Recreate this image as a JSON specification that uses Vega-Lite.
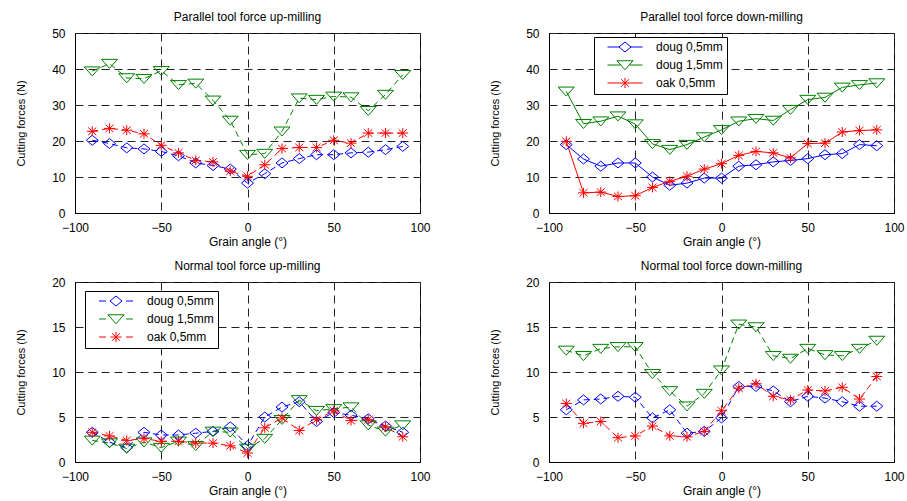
{
  "$schema": "https://vega.github.io/schema/vega-lite/v6.json",
  "background": "white",
  "padding": {"left": 15, "top": 10, "right": 5, "bottom": 5},
  "config": {
    "font": "Liberation Sans",
    "view": {"stroke": "black", "strokeWidth": 1},
    "title": {"fontSize": 12, "fontWeight": "normal", "font": "Liberation Sans", "color": "black", "offset": 3},
    "axis": {"labelFont": "Liberation Sans", "labelFontSize": 12, "labelColor": "black", "titleFont": "Liberation Sans", "titleFontSize": 12, "titleFontWeight": "normal", "titleColor": "black", "domainColor": "black", "domainWidth": 1, "ticks": false, "grid": true, "gridColor": "#222222", "gridDash": [8, 5], "gridWidth": 1, "gridOpacity": 1, "labelFlush": false, "labelOverlap": false},
    "axisX": {"labelPadding": 9, "titlePadding": 3},
    "axisY": {"labelPadding": 10, "titlePadding": 25, "titleFontSize": 11},
    "legend": {"orient": "none", "padding": 4, "strokeColor": "black", "fillColor": "white", "symbolSize": 100, "symbolOffset": 21, "labelOffset": 25, "rowPadding": 4, "labelFont": "Liberation Sans", "labelFontSize": 12, "labelColor": "black", "symbolStrokeWidth": 1, "symbolOpacity": 1, "cornerRadius": 0}
  },
  "data": {"values": [
    {"panel":"pu","series":"doug 0,5mm","angle":-90,"force":20.2},{"panel":"pu","series":"doug 0,5mm","angle":-80,"force":19.3},{"panel":"pu","series":"doug 0,5mm","angle":-70,"force":18.1},{"panel":"pu","series":"doug 0,5mm","angle":-60,"force":17.8},{"panel":"pu","series":"doug 0,5mm","angle":-50,"force":17.1},{"panel":"pu","series":"doug 0,5mm","angle":-40,"force":15.9},{"panel":"pu","series":"doug 0,5mm","angle":-30,"force":13.9},{"panel":"pu","series":"doug 0,5mm","angle":-20,"force":13.2},{"panel":"pu","series":"doug 0,5mm","angle":-10,"force":12.2},{"panel":"pu","series":"doug 0,5mm","angle":0,"force":8.3},{"panel":"pu","series":"doug 0,5mm","angle":10,"force":10.9},{"panel":"pu","series":"doug 0,5mm","angle":20,"force":13.9},{"panel":"pu","series":"doug 0,5mm","angle":30,"force":15.1},{"panel":"pu","series":"doug 0,5mm","angle":40,"force":16.2},{"panel":"pu","series":"doug 0,5mm","angle":50,"force":16.2},{"panel":"pu","series":"doug 0,5mm","angle":60,"force":16.7},{"panel":"pu","series":"doug 0,5mm","angle":70,"force":16.9},{"panel":"pu","series":"doug 0,5mm","angle":80,"force":17.6},{"panel":"pu","series":"doug 0,5mm","angle":90,"force":18.5},
    {"panel":"pu","series":"doug 1,5mm","angle":-90,"force":39.4},{"panel":"pu","series":"doug 1,5mm","angle":-80,"force":41.5},{"panel":"pu","series":"doug 1,5mm","angle":-70,"force":37.5},{"panel":"pu","series":"doug 1,5mm","angle":-60,"force":37.3},{"panel":"pu","series":"doug 1,5mm","angle":-50,"force":39.5},{"panel":"pu","series":"doug 1,5mm","angle":-40,"force":35.6},{"panel":"pu","series":"doug 1,5mm","angle":-30,"force":36.0},{"panel":"pu","series":"doug 1,5mm","angle":-20,"force":31.3},{"panel":"pu","series":"doug 1,5mm","angle":-10,"force":25.7},{"panel":"pu","series":"doug 1,5mm","angle":0,"force":16.2},{"panel":"pu","series":"doug 1,5mm","angle":10,"force":16.5},{"panel":"pu","series":"doug 1,5mm","angle":20,"force":22.7},{"panel":"pu","series":"doug 1,5mm","angle":30,"force":31.9},{"panel":"pu","series":"doug 1,5mm","angle":40,"force":31.5},{"panel":"pu","series":"doug 1,5mm","angle":50,"force":32.4},{"panel":"pu","series":"doug 1,5mm","angle":60,"force":32.2},{"panel":"pu","series":"doug 1,5mm","angle":70,"force":28.4},{"panel":"pu","series":"doug 1,5mm","angle":80,"force":32.9},{"panel":"pu","series":"doug 1,5mm","angle":90,"force":38.4},
    {"panel":"pu","series":"oak 0,5mm","angle":-90,"force":22.7},{"panel":"pu","series":"oak 0,5mm","angle":-80,"force":23.5},{"panel":"pu","series":"oak 0,5mm","angle":-70,"force":23.0},{"panel":"pu","series":"oak 0,5mm","angle":-60,"force":22.0},{"panel":"pu","series":"oak 0,5mm","angle":-50,"force":18.8},{"panel":"pu","series":"oak 0,5mm","angle":-40,"force":16.7},{"panel":"pu","series":"oak 0,5mm","angle":-30,"force":14.6},{"panel":"pu","series":"oak 0,5mm","angle":-20,"force":14.2},{"panel":"pu","series":"oak 0,5mm","angle":-10,"force":11.6},{"panel":"pu","series":"oak 0,5mm","angle":0,"force":10.2},{"panel":"pu","series":"oak 0,5mm","angle":10,"force":13.4},{"panel":"pu","series":"oak 0,5mm","angle":20,"force":17.9},{"panel":"pu","series":"oak 0,5mm","angle":30,"force":18.2},{"panel":"pu","series":"oak 0,5mm","angle":40,"force":18.2},{"panel":"pu","series":"oak 0,5mm","angle":50,"force":20.2},{"panel":"pu","series":"oak 0,5mm","angle":60,"force":19.4},{"panel":"pu","series":"oak 0,5mm","angle":70,"force":22.2},{"panel":"pu","series":"oak 0,5mm","angle":80,"force":22.2},{"panel":"pu","series":"oak 0,5mm","angle":90,"force":22.2},
    {"panel":"pd","series":"doug 0,5mm","angle":-90,"force":19.0},{"panel":"pd","series":"doug 0,5mm","angle":-80,"force":15.0},{"panel":"pd","series":"doug 0,5mm","angle":-70,"force":13.0},{"panel":"pd","series":"doug 0,5mm","angle":-60,"force":13.9},{"panel":"pd","series":"doug 0,5mm","angle":-50,"force":13.9},{"panel":"pd","series":"doug 0,5mm","angle":-40,"force":10.0},{"panel":"pd","series":"doug 0,5mm","angle":-30,"force":7.7},{"panel":"pd","series":"doug 0,5mm","angle":-20,"force":8.3},{"panel":"pd","series":"doug 0,5mm","angle":-10,"force":9.7},{"panel":"pd","series":"doug 0,5mm","angle":0,"force":9.7},{"panel":"pd","series":"doug 0,5mm","angle":10,"force":13.0},{"panel":"pd","series":"doug 0,5mm","angle":20,"force":13.4},{"panel":"pd","series":"doug 0,5mm","angle":30,"force":14.2},{"panel":"pd","series":"doug 0,5mm","angle":40,"force":14.6},{"panel":"pd","series":"doug 0,5mm","angle":50,"force":15.1},{"panel":"pd","series":"doug 0,5mm","angle":60,"force":16.2},{"panel":"pd","series":"doug 0,5mm","angle":70,"force":16.5},{"panel":"pd","series":"doug 0,5mm","angle":80,"force":19.0},{"panel":"pd","series":"doug 0,5mm","angle":90,"force":18.7},
    {"panel":"pd","series":"doug 1,5mm","angle":-90,"force":33.8},{"panel":"pd","series":"doug 1,5mm","angle":-80,"force":24.8},{"panel":"pd","series":"doug 1,5mm","angle":-70,"force":25.5},{"panel":"pd","series":"doug 1,5mm","angle":-60,"force":26.9},{"panel":"pd","series":"doug 1,5mm","angle":-50,"force":24.7},{"panel":"pd","series":"doug 1,5mm","angle":-40,"force":19.2},{"panel":"pd","series":"doug 1,5mm","angle":-30,"force":17.6},{"panel":"pd","series":"doug 1,5mm","angle":-20,"force":19.0},{"panel":"pd","series":"doug 1,5mm","angle":-10,"force":21.1},{"panel":"pd","series":"doug 1,5mm","angle":0,"force":23.1},{"panel":"pd","series":"doug 1,5mm","angle":10,"force":25.5},{"panel":"pd","series":"doug 1,5mm","angle":20,"force":26.2},{"panel":"pd","series":"doug 1,5mm","angle":30,"force":25.7},{"panel":"pd","series":"doug 1,5mm","angle":40,"force":28.7},{"panel":"pd","series":"doug 1,5mm","angle":50,"force":31.5},{"panel":"pd","series":"doug 1,5mm","angle":60,"force":32.1},{"panel":"pd","series":"doug 1,5mm","angle":70,"force":34.9},{"panel":"pd","series":"doug 1,5mm","angle":80,"force":35.6},{"panel":"pd","series":"doug 1,5mm","angle":90,"force":36.1},
    {"panel":"pd","series":"oak 0,5mm","angle":-90,"force":19.9},{"panel":"pd","series":"oak 0,5mm","angle":-80,"force":5.6},{"panel":"pd","series":"oak 0,5mm","angle":-70,"force":5.8},{"panel":"pd","series":"oak 0,5mm","angle":-60,"force":4.6},{"panel":"pd","series":"oak 0,5mm","angle":-50,"force":4.8},{"panel":"pd","series":"oak 0,5mm","angle":-40,"force":7.1},{"panel":"pd","series":"oak 0,5mm","angle":-30,"force":8.8},{"panel":"pd","series":"oak 0,5mm","angle":-20,"force":10.2},{"panel":"pd","series":"oak 0,5mm","angle":-10,"force":12.2},{"panel":"pd","series":"oak 0,5mm","angle":0,"force":13.7},{"panel":"pd","series":"oak 0,5mm","angle":10,"force":16.0},{"panel":"pd","series":"oak 0,5mm","angle":20,"force":17.1},{"panel":"pd","series":"oak 0,5mm","angle":30,"force":16.7},{"panel":"pd","series":"oak 0,5mm","angle":40,"force":15.3},{"panel":"pd","series":"oak 0,5mm","angle":50,"force":19.3},{"panel":"pd","series":"oak 0,5mm","angle":60,"force":19.4},{"panel":"pd","series":"oak 0,5mm","angle":70,"force":22.5},{"panel":"pd","series":"oak 0,5mm","angle":80,"force":22.9},{"panel":"pd","series":"oak 0,5mm","angle":90,"force":23.1},
    {"panel":"nu","series":"doug 0,5mm","angle":-90,"force":3.3},{"panel":"nu","series":"doug 0,5mm","angle":-80,"force":2.2},{"panel":"nu","series":"doug 0,5mm","angle":-70,"force":1.6},{"panel":"nu","series":"doug 0,5mm","angle":-60,"force":3.3},{"panel":"nu","series":"doug 0,5mm","angle":-50,"force":3.0},{"panel":"nu","series":"doug 0,5mm","angle":-40,"force":3.0},{"panel":"nu","series":"doug 0,5mm","angle":-30,"force":3.2},{"panel":"nu","series":"doug 0,5mm","angle":-20,"force":3.4},{"panel":"nu","series":"doug 0,5mm","angle":-10,"force":3.9},{"panel":"nu","series":"doug 0,5mm","angle":0,"force":1.8},{"panel":"nu","series":"doug 0,5mm","angle":10,"force":5.0},{"panel":"nu","series":"doug 0,5mm","angle":20,"force":6.1},{"panel":"nu","series":"doug 0,5mm","angle":30,"force":6.7},{"panel":"nu","series":"doug 0,5mm","angle":40,"force":4.5},{"panel":"nu","series":"doug 0,5mm","angle":50,"force":5.5},{"panel":"nu","series":"doug 0,5mm","angle":60,"force":5.2},{"panel":"nu","series":"doug 0,5mm","angle":70,"force":4.8},{"panel":"nu","series":"doug 0,5mm","angle":80,"force":4.0},{"panel":"nu","series":"doug 0,5mm","angle":90,"force":3.3},
    {"panel":"nu","series":"doug 1,5mm","angle":-90,"force":2.4},{"panel":"nu","series":"doug 1,5mm","angle":-80,"force":2.1},{"panel":"nu","series":"doug 1,5mm","angle":-70,"force":1.5},{"panel":"nu","series":"doug 1,5mm","angle":-60,"force":2.2},{"panel":"nu","series":"doug 1,5mm","angle":-50,"force":1.6},{"panel":"nu","series":"doug 1,5mm","angle":-40,"force":2.3},{"panel":"nu","series":"doug 1,5mm","angle":-30,"force":1.8},{"panel":"nu","series":"doug 1,5mm","angle":-20,"force":3.4},{"panel":"nu","series":"doug 1,5mm","angle":-10,"force":3.3},{"panel":"nu","series":"doug 1,5mm","angle":0,"force":1.5},{"panel":"nu","series":"doug 1,5mm","angle":10,"force":2.6},{"panel":"nu","series":"doug 1,5mm","angle":20,"force":4.7},{"panel":"nu","series":"doug 1,5mm","angle":30,"force":6.9},{"panel":"nu","series":"doug 1,5mm","angle":40,"force":5.7},{"panel":"nu","series":"doug 1,5mm","angle":50,"force":5.9},{"panel":"nu","series":"doug 1,5mm","angle":60,"force":6.1},{"panel":"nu","series":"doug 1,5mm","angle":70,"force":4.1},{"panel":"nu","series":"doug 1,5mm","angle":80,"force":3.4},{"panel":"nu","series":"doug 1,5mm","angle":90,"force":4.1},
    {"panel":"nu","series":"oak 0,5mm","angle":-90,"force":3.3},{"panel":"nu","series":"oak 0,5mm","angle":-80,"force":2.9},{"panel":"nu","series":"oak 0,5mm","angle":-70,"force":2.4},{"panel":"nu","series":"oak 0,5mm","angle":-60,"force":2.6},{"panel":"nu","series":"oak 0,5mm","angle":-50,"force":2.3},{"panel":"nu","series":"oak 0,5mm","angle":-40,"force":2.3},{"panel":"nu","series":"oak 0,5mm","angle":-30,"force":2.1},{"panel":"nu","series":"oak 0,5mm","angle":-20,"force":2.1},{"panel":"nu","series":"oak 0,5mm","angle":-10,"force":1.8},{"panel":"nu","series":"oak 0,5mm","angle":0,"force":1.0},{"panel":"nu","series":"oak 0,5mm","angle":10,"force":3.8},{"panel":"nu","series":"oak 0,5mm","angle":20,"force":4.9},{"panel":"nu","series":"oak 0,5mm","angle":30,"force":3.5},{"panel":"nu","series":"oak 0,5mm","angle":40,"force":4.7},{"panel":"nu","series":"oak 0,5mm","angle":50,"force":5.7},{"panel":"nu","series":"oak 0,5mm","angle":60,"force":4.6},{"panel":"nu","series":"oak 0,5mm","angle":70,"force":4.7},{"panel":"nu","series":"oak 0,5mm","angle":80,"force":3.9},{"panel":"nu","series":"oak 0,5mm","angle":90,"force":2.8},
    {"panel":"nd","series":"doug 0,5mm","angle":-90,"force":5.8},{"panel":"nd","series":"doug 0,5mm","angle":-80,"force":6.9},{"panel":"nd","series":"doug 0,5mm","angle":-70,"force":7.0},{"panel":"nd","series":"doug 0,5mm","angle":-60,"force":7.3},{"panel":"nd","series":"doug 0,5mm","angle":-50,"force":7.2},{"panel":"nd","series":"doug 0,5mm","angle":-40,"force":4.9},{"panel":"nd","series":"doug 0,5mm","angle":-30,"force":5.8},{"panel":"nd","series":"doug 0,5mm","angle":-20,"force":3.2},{"panel":"nd","series":"doug 0,5mm","angle":-10,"force":3.4},{"panel":"nd","series":"doug 0,5mm","angle":0,"force":4.9},{"panel":"nd","series":"doug 0,5mm","angle":10,"force":8.4},{"panel":"nd","series":"doug 0,5mm","angle":20,"force":8.4},{"panel":"nd","series":"doug 0,5mm","angle":30,"force":7.9},{"panel":"nd","series":"doug 0,5mm","angle":40,"force":6.7},{"panel":"nd","series":"doug 0,5mm","angle":50,"force":7.3},{"panel":"nd","series":"doug 0,5mm","angle":60,"force":7.1},{"panel":"nd","series":"doug 0,5mm","angle":70,"force":6.7},{"panel":"nd","series":"doug 0,5mm","angle":80,"force":6.2},{"panel":"nd","series":"doug 0,5mm","angle":90,"force":6.2},
    {"panel":"nd","series":"doug 1,5mm","angle":-90,"force":12.4},{"panel":"nd","series":"doug 1,5mm","angle":-80,"force":11.8},{"panel":"nd","series":"doug 1,5mm","angle":-70,"force":12.6},{"panel":"nd","series":"doug 1,5mm","angle":-60,"force":12.8},{"panel":"nd","series":"doug 1,5mm","angle":-50,"force":12.8},{"panel":"nd","series":"doug 1,5mm","angle":-40,"force":9.8},{"panel":"nd","series":"doug 1,5mm","angle":-30,"force":7.9},{"panel":"nd","series":"doug 1,5mm","angle":-20,"force":6.2},{"panel":"nd","series":"doug 1,5mm","angle":-10,"force":7.6},{"panel":"nd","series":"doug 1,5mm","angle":0,"force":10.2},{"panel":"nd","series":"doug 1,5mm","angle":10,"force":15.3},{"panel":"nd","series":"doug 1,5mm","angle":20,"force":15.0},{"panel":"nd","series":"doug 1,5mm","angle":30,"force":11.8},{"panel":"nd","series":"doug 1,5mm","angle":40,"force":11.5},{"panel":"nd","series":"doug 1,5mm","angle":50,"force":12.6},{"panel":"nd","series":"doug 1,5mm","angle":60,"force":11.9},{"panel":"nd","series":"doug 1,5mm","angle":70,"force":11.8},{"panel":"nd","series":"doug 1,5mm","angle":80,"force":12.6},{"panel":"nd","series":"doug 1,5mm","angle":90,"force":13.5},
    {"panel":"nd","series":"oak 0,5mm","angle":-90,"force":6.5},{"panel":"nd","series":"oak 0,5mm","angle":-80,"force":4.3},{"panel":"nd","series":"oak 0,5mm","angle":-70,"force":4.5},{"panel":"nd","series":"oak 0,5mm","angle":-60,"force":2.7},{"panel":"nd","series":"oak 0,5mm","angle":-50,"force":2.9},{"panel":"nd","series":"oak 0,5mm","angle":-40,"force":4.0},{"panel":"nd","series":"oak 0,5mm","angle":-30,"force":2.9},{"panel":"nd","series":"oak 0,5mm","angle":-20,"force":2.8},{"panel":"nd","series":"oak 0,5mm","angle":-10,"force":3.4},{"panel":"nd","series":"oak 0,5mm","angle":0,"force":5.7},{"panel":"nd","series":"oak 0,5mm","angle":10,"force":8.2},{"panel":"nd","series":"oak 0,5mm","angle":20,"force":8.7},{"panel":"nd","series":"oak 0,5mm","angle":30,"force":7.3},{"panel":"nd","series":"oak 0,5mm","angle":40,"force":6.9},{"panel":"nd","series":"oak 0,5mm","angle":50,"force":8.0},{"panel":"nd","series":"oak 0,5mm","angle":60,"force":7.9},{"panel":"nd","series":"oak 0,5mm","angle":70,"force":8.3},{"panel":"nd","series":"oak 0,5mm","angle":80,"force":7.0},{"panel":"nd","series":"oak 0,5mm","angle":90,"force":9.5}
  ]},
  "columns": 2,
  "spacing": {"row": 69, "column": 129},
  "bounds": "flush",
  "resolve": {"scale": {"color": "independent", "shape": "independent"}, "legend": {"color": "independent", "shape": "independent"}},
  "concat": [
    {
      "title": "Parallel tool force up-milling",
      "width": 345, "height": 180,
      "transform": [{"filter": "datum.panel == 'pu'"}],
      "encoding": {
        "x": {"field": "angle", "type": "quantitative", "scale": {"domain": [-100, 100], "nice": false, "zero": false}, "axis": {"values": [-100, -50, 0, 50, 100], "title": "Grain angle (°)"}},
        "y": {"field": "force", "type": "quantitative", "scale": {"domain": [0, 50], "nice": false}, "axis": {"values": [0, 10, 20, 30, 40, 50], "title": "Cutting forces (N)"}},
        "color": {"field": "series", "type": "nominal", "scale": {"domain": ["doug 0,5mm", "doug 1,5mm", "oak 0,5mm"], "range": ["#0000ff", "#008000", "#ff0000"]}, "legend": null}
      },
      "layer": [
        {"mark": {"type": "line", "strokeWidth": 1, "strokeDash": [6, 4]}},
        {"mark": {"type": "point", "filled": false, "size": 100, "strokeWidth": 1, "opacity": 1},
         "encoding": {
           "shape": {"field": "series", "type": "nominal", "scale": {"domain": ["oak 0,5mm", "doug 0,5mm", "doug 1,5mm"], "range": ["M-1.1,0H1.1M0,-1V1M-0.8,-0.75L0.8,0.75M-0.8,0.75L0.8,-0.75", "M-1.2,0L0,-1L1.2,0L0,1Z", "M-1.6,-0.85L1.6,-0.85L0,0.95Z"]}, "legend": null}
         }}
      ]
    },
    {
      "title": "Parallel tool force down-milling",
      "width": 345, "height": 180,
      "transform": [{"filter": "datum.panel == 'pd'"}],
      "encoding": {
        "x": {"field": "angle", "type": "quantitative", "scale": {"domain": [-100, 100], "nice": false, "zero": false}, "axis": {"values": [-100, -50, 0, 50, 100], "title": "Grain angle (°)"}},
        "y": {"field": "force", "type": "quantitative", "scale": {"domain": [0, 50], "nice": false}, "axis": {"values": [0, 10, 20, 30, 40, 50], "title": "Cutting forces (N)"}}
      },
      "resolve": {"scale": {"shape": "independent"}, "legend": {"shape": "independent", "color": "independent"}},
      "layer": [
        {"mark": {"type": "point", "filled": false, "size": 100, "strokeWidth": 1, "opacity": 0},
         "encoding": {
           "color": {"field": "series", "type": "nominal", "scale": {"domain": ["doug 0,5mm", "doug 1,5mm", "oak 0,5mm"], "range": ["#0000ff", "#008000", "#ff0000"]},
             "legend": {"title": null, "legendX": 45, "legendY": 4, "symbolOpacity": 1}},
           "shape": {"field": "series", "type": "nominal", "scale": {"domain": ["doug 0,5mm", "doug 1,5mm", "oak 0,5mm"], "range": ["M-3.5,0H-1.2M1.2,0H3.5M-1.2,0L0,-1L1.2,0L0,1Z", "M-3.5,0H-0.85M0.85,0H3.5M-1.6,-0.85L1.6,-0.85L0,0.95Z", "M-3.5,0H3.5M0,-1V1M-0.8,-0.75L0.8,0.75M-0.8,0.75L0.8,-0.75"]}, "legend": null}
         }},
        {"mark": {"type": "line", "strokeWidth": 1},
         "encoding": {"color": {"field": "series", "type": "nominal", "scale": {"domain": ["doug 0,5mm", "doug 1,5mm", "oak 0,5mm"], "range": ["#0000ff", "#008000", "#ff0000"]}, "legend": null}}},
        {"mark": {"type": "point", "filled": false, "size": 100, "strokeWidth": 1, "opacity": 1},
         "encoding": {
           "color": {"field": "series", "type": "nominal", "scale": {"domain": ["doug 0,5mm", "doug 1,5mm", "oak 0,5mm"], "range": ["#0000ff", "#008000", "#ff0000"]}, "legend": null},
           "shape": {"field": "series", "type": "nominal", "scale": {"domain": ["oak 0,5mm", "doug 0,5mm", "doug 1,5mm"], "range": ["M-1.1,0H1.1M0,-1V1M-0.8,-0.75L0.8,0.75M-0.8,0.75L0.8,-0.75", "M-1.2,0L0,-1L1.2,0L0,1Z", "M-1.6,-0.85L1.6,-0.85L0,0.95Z"]}, "legend": null}
         }}
      ]
    },
    {
      "title": "Normal tool force up-milling",
      "width": 345, "height": 180,
      "transform": [{"filter": "datum.panel == 'nu'"}],
      "encoding": {
        "x": {"field": "angle", "type": "quantitative", "scale": {"domain": [-100, 100], "nice": false, "zero": false}, "axis": {"values": [-100, -50, 0, 50, 100], "title": "Grain angle (°)"}},
        "y": {"field": "force", "type": "quantitative", "scale": {"domain": [0, 20], "nice": false}, "axis": {"values": [0, 5, 10, 15, 20], "title": "Cutting forces (N)"}}
      },
      "resolve": {"scale": {"shape": "independent"}, "legend": {"shape": "independent", "color": "independent"}},
      "layer": [
        {"mark": {"type": "point", "filled": false, "size": 100, "strokeWidth": 1, "opacity": 0},
         "encoding": {
           "color": {"field": "series", "type": "nominal", "scale": {"domain": ["doug 0,5mm", "doug 1,5mm", "oak 0,5mm"], "range": ["#0000ff", "#008000", "#ff0000"]},
             "legend": {"title": null, "legendX": 10, "legendY": 9, "symbolOpacity": 1}},
           "shape": {"field": "series", "type": "nominal", "scale": {"domain": ["doug 0,5mm", "doug 1,5mm", "oak 0,5mm"], "range": ["M-3.4,0H-2M2,0H3.4M-1.2,0L0,-1L1.2,0L0,1Z", "M-3.4,0H-2M2,0H3.4M-1.6,-0.85L1.6,-0.85L0,0.95Z", "M-3.4,0H-2M2,0H3.4M-1.1,0H1.1M0,-1V1M-0.8,-0.75L0.8,0.75M-0.8,0.75L0.8,-0.75"]}, "legend": null}
         }},
        {"mark": {"type": "line", "strokeWidth": 1, "strokeDash": [6, 4]},
         "encoding": {"color": {"field": "series", "type": "nominal", "scale": {"domain": ["doug 0,5mm", "doug 1,5mm", "oak 0,5mm"], "range": ["#0000ff", "#008000", "#ff0000"]}, "legend": null}}},
        {"mark": {"type": "point", "filled": false, "size": 100, "strokeWidth": 1, "opacity": 1},
         "encoding": {
           "color": {"field": "series", "type": "nominal", "scale": {"domain": ["doug 0,5mm", "doug 1,5mm", "oak 0,5mm"], "range": ["#0000ff", "#008000", "#ff0000"]}, "legend": null},
           "shape": {"field": "series", "type": "nominal", "scale": {"domain": ["oak 0,5mm", "doug 0,5mm", "doug 1,5mm"], "range": ["M-1.1,0H1.1M0,-1V1M-0.8,-0.75L0.8,0.75M-0.8,0.75L0.8,-0.75", "M-1.2,0L0,-1L1.2,0L0,1Z", "M-1.6,-0.85L1.6,-0.85L0,0.95Z"]}, "legend": null}
         }}
      ]
    },
    {
      "title": "Normal tool force down-milling",
      "width": 345, "height": 180,
      "transform": [{"filter": "datum.panel == 'nd'"}],
      "encoding": {
        "x": {"field": "angle", "type": "quantitative", "scale": {"domain": [-100, 100], "nice": false, "zero": false}, "axis": {"values": [-100, -50, 0, 50, 100], "title": "Grain angle (°)"}},
        "y": {"field": "force", "type": "quantitative", "scale": {"domain": [0, 20], "nice": false}, "axis": {"values": [0, 5, 10, 15, 20], "title": "Cutting forces (N)"}},
        "color": {"field": "series", "type": "nominal", "scale": {"domain": ["doug 0,5mm", "doug 1,5mm", "oak 0,5mm"], "range": ["#0000ff", "#008000", "#ff0000"]}, "legend": null}
      },
      "layer": [
        {"mark": {"type": "line", "strokeWidth": 1, "strokeDash": [6, 4]}},
        {"mark": {"type": "point", "filled": false, "size": 100, "strokeWidth": 1, "opacity": 1},
         "encoding": {
           "shape": {"field": "series", "type": "nominal", "scale": {"domain": ["oak 0,5mm", "doug 0,5mm", "doug 1,5mm"], "range": ["M-1.1,0H1.1M0,-1V1M-0.8,-0.75L0.8,0.75M-0.8,0.75L0.8,-0.75", "M-1.2,0L0,-1L1.2,0L0,1Z", "M-1.6,-0.85L1.6,-0.85L0,0.95Z"]}, "legend": null}
         }}
      ]
    }
  ]
}
